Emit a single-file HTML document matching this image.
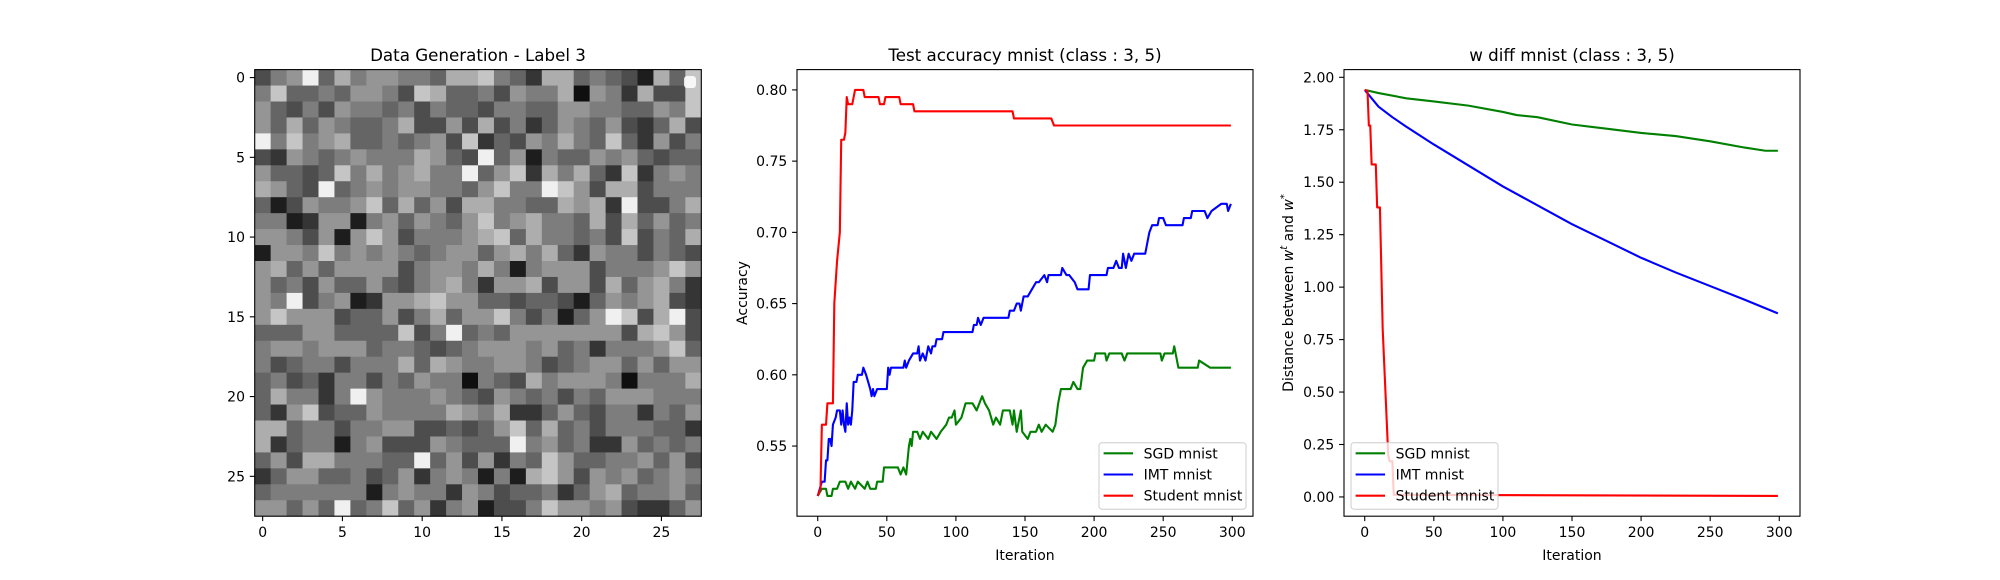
<!DOCTYPE html>
<html><head><meta charset="utf-8"><style>
html,body{margin:0;padding:0;background:#fff;}
svg{display:block;font-family:"DejaVu Sans","Liberation Sans",sans-serif;}
</style></head><body>
<svg id="fig" width="2000" height="580" viewBox="0 0 2000 580" xmlns="http://www.w3.org/2000/svg"></svg>
<script>
// ---------- DATA ----------
const heatRows = [
"3569475665547785427745431748",
"5844546653874453655706527338",
"6435365545354435544665544658",
"6474654457336373524654632473",
"9585674454563824365754842635",
"3265456555764394615446564344",
"6443485756755946827574282565",
"7643945656655468559863773555",
"4136556847463775544767293357",
"5512661564654685675547374645",
"6653616863555678475545383547",
"1665856565456646757426553543",
"6746466663566575156663555686",
"6453644643567526673663746752",
"6593561266786644344314656732",
"6866634463574668535146983793",
"4446644448359454666666637863",
"5665666455434566656452555684",
"5345535557476556653456646466",
"4534255354655054375666505557",
"4755259655565436545354666555",
"4268344655557657224643552546",
"7745535566334346847453555442",
"7245515633365444956452264545",
"4637755544946362548644556463",
"2466445346256515178636564565",
"4555555156552653445246745564",
"6646494584625613358665632246"
];
const xTicksImg = [0,5,10,15,20,25];
const yTicksImg = [0,5,10,15,20,25];

const accTicks = [0.55,0.60,0.65,0.70,0.75,0.80];
const distTicks = [0.00,0.25,0.50,0.75,1.00,1.25,1.50,1.75,2.00];
const iterTicks = [0,50,100,150,200,250,300];

const accRedX = [0,2,3,6,7,11,12,14,16,17,19,20,21,22,25,27,33,34,44,45,48,49,59,60,69,70,141,142,169,171,299];
const accRedY = [0.515,0.52,0.565,0.565,0.58,0.58,0.65,0.68,0.70,0.765,0.765,0.77,0.795,0.79,0.79,0.80,0.80,0.795,0.795,0.79,0.79,0.795,0.795,0.79,0.79,0.785,0.785,0.78,0.78,0.775,0.775];

const accBlueX = [0,3,5,6,7,8,9,10,11,13,14,16,17,18,19,20,21,22,23,24,25,26,28,29,32,33,35,38,39,40,41,43,50,51,52,53,62,63,64,66,69,72,73,74,76,78,80,82,83,85,86,90,91,112,113,115,116,118,120,138,139,142,144,146,147,149,152,155,158,160,164,166,167,176,177,180,182,186,188,196,197,209,210,214,216,218,220,221,223,225,227,229,237,238,240,242,246,247,250,252,264,265,270,271,280,282,285,292,296,297,299];
const accBlueY = [0.515,0.525,0.525,0.54,0.54,0.555,0.555,0.55,0.565,0.57,0.575,0.575,0.565,0.575,0.565,0.56,0.58,0.565,0.57,0.565,0.575,0.595,0.595,0.60,0.60,0.605,0.60,0.59,0.585,0.59,0.585,0.59,0.59,0.605,0.60,0.605,0.605,0.61,0.605,0.61,0.615,0.615,0.62,0.61,0.615,0.61,0.62,0.615,0.62,0.62,0.625,0.625,0.63,0.63,0.635,0.635,0.64,0.635,0.64,0.64,0.645,0.645,0.65,0.65,0.645,0.655,0.655,0.66,0.665,0.665,0.67,0.665,0.67,0.67,0.675,0.67,0.67,0.665,0.66,0.66,0.67,0.67,0.675,0.675,0.68,0.675,0.675,0.685,0.675,0.685,0.68,0.685,0.685,0.69,0.70,0.705,0.705,0.71,0.71,0.705,0.705,0.71,0.71,0.715,0.715,0.71,0.715,0.72,0.72,0.715,0.72];

const accGreenX = [0,3,6,7,10,11,14,16,20,22,24,27,29,34,36,38,42,43,47,48,58,60,62,64,65,66,67,68,69,72,74,76,80,82,86,89,93,95,97,99,100,104,107,112,115,117,119,121,124,127,129,132,134,139,141,142,144,147,148,152,154,158,160,162,165,170,172,174,176,183,185,188,190,192,195,200,201,208,209,211,220,222,224,248,249,251,257,258,261,275,276,284,299];
const accGreenY = [0.515,0.52,0.52,0.515,0.515,0.52,0.52,0.525,0.525,0.52,0.525,0.52,0.525,0.52,0.525,0.52,0.52,0.525,0.525,0.535,0.535,0.53,0.535,0.53,0.54,0.55,0.555,0.55,0.56,0.56,0.555,0.56,0.555,0.56,0.555,0.56,0.565,0.57,0.57,0.575,0.565,0.57,0.58,0.58,0.575,0.58,0.585,0.58,0.575,0.565,0.57,0.565,0.575,0.575,0.565,0.575,0.56,0.575,0.56,0.555,0.56,0.56,0.565,0.56,0.565,0.56,0.565,0.58,0.59,0.59,0.595,0.59,0.59,0.605,0.61,0.61,0.615,0.615,0.61,0.615,0.615,0.61,0.615,0.615,0.61,0.615,0.615,0.62,0.605,0.605,0.61,0.605,0.605];

const distGreenX = [0,10,30,50,75,100,110,125,150,175,200,225,250,275,290,299];
const distGreenY = [1.94,1.925,1.90,1.885,1.865,1.835,1.82,1.81,1.775,1.755,1.735,1.72,1.695,1.665,1.65,1.65];
const distBlueX = [0,5,10,20,30,50,75,100,125,150,175,200,225,250,275,299];
const distBlueY = [1.94,1.90,1.86,1.81,1.765,1.68,1.58,1.48,1.39,1.30,1.22,1.14,1.07,1.005,0.94,0.875];
const distRedX = [0,2,3,4,5,8,9,11,13,17,18,20,21,299];
const distRedY = [1.94,1.935,1.77,1.77,1.585,1.585,1.38,1.38,0.80,0.20,0.17,0.17,0.01,0.005];

// ---------- HELPERS ----------
const NS = "http://www.w3.org/2000/svg";
const svg = document.getElementById('fig');
function mk(tag, attrs, parent){
  const e = document.createElementNS(NS, tag);
  for (const k in attrs) e.setAttribute(k, attrs[k]);
  (parent||svg).appendChild(e);
  return e;
}
const TOP = 69.6, BOT = 516.2;
function linScale(d0,d1,r0,r1){ return v => r0 + (v-d0)/(d1-d0)*(r1-r0); }

// ---------- PANEL 1: heatmap ----------
(function(){
  const L = 254.7, R = 701.3;
  const cell = (R-L)/28;
  const sx = linScale(-0.5,27.5,L,R), sy = linScale(-0.5,27.5,TOP,BOT);
  const g = mk('g',{});
  
  
  heatRows.forEach((row,r)=>{
    for(let c=0;c<row.length;c++){
      const d = +row[c];
      let v = Math.round(125 + (d-5)*24);
      if (d===9) v = 240; if (d===0) v = 15;
      v = Math.max(0,Math.min(255,v));
      const rc = mk('rect',{x:sx(c-0.5),y:sy(r-0.5),width:cell+0.4,height:(BOT-TOP)/28+0.4,fill:`rgb(${v},${v},${v})`},g);
      
      
    }
  });
  const fr = mk('rect',{x:L,y:TOP,width:R-L,height:BOT-TOP,fill:'none',stroke:'#000','stroke-width':1.1});
  
  
  const lg = mk('rect',{x:684,y:76,width:12,height:12,rx:3,fill:'#fff',opacity:0.85});
  
  
  xTicksImg.forEach(t=>{
    const x = sx(t);
    mk('line',{x1:x,x2:x,y1:BOT,y2:BOT+4.9,stroke:'#000','stroke-width':1.1});
    const tx = mk('text',{x:x,y:537,'font-size':14,'text-anchor':'middle'}); tx.textContent=t;
    
    
  });
  yTicksImg.forEach(t=>{
    const y = sy(t);
    mk('line',{x1:L-4.9,x2:L,y1:y,y2:y,stroke:'#000','stroke-width':1.1});
    const tx = mk('text',{x:L-9.7,y:y+5,'font-size':14,'text-anchor':'end'}); tx.textContent=t;
    
    
  });
  const ti = mk('text',{x:(L+R)/2,y:61,'font-size':16.7,'text-anchor':'middle'}); ti.textContent='Data Generation - Label 3';
  
  
})();

// ---------- line panels ----------
function linePanel(L, R, ymin, ymax, yTicks, fmt, series, title, ylabelFn, legendX, nameP){
  const sx = linScale(-15,315,L,R), sy = linScale(ymin,ymax,BOT,TOP);
  const clipId = 'clip'+nameP;
  const cp = mk('clipPath',{id:clipId});
  mk('rect',{x:L,y:TOP,width:R-L,height:BOT-TOP},cp);
  series.forEach(s=>{
    let d='';
    s.x.forEach((xv,i)=>{ d += (i?'L':'M')+sx(xv).toFixed(2)+','+sy(s.y[i]).toFixed(2); });
    const p = mk('path',{d:d,fill:'none',stroke:s.color,'stroke-width':2.1,'stroke-linejoin':'round','clip-path':`url(#${clipId})`});
    
    
  });
  const fr = mk('rect',{x:L,y:TOP,width:R-L,height:BOT-TOP,fill:'none',stroke:'#000','stroke-width':1.1});
  
  
  iterTicks.forEach(t=>{
    const x = sx(t);
    mk('line',{x1:x,x2:x,y1:BOT,y2:BOT+4.9,stroke:'#000','stroke-width':1.1});
    const tx = mk('text',{x:x,y:537,'font-size':14,'text-anchor':'middle'}); tx.textContent=t;
    
    
  });
  yTicks.forEach(t=>{
    const y = sy(t);
    mk('line',{x1:L-4.9,x2:L,y1:y,y2:y,stroke:'#000','stroke-width':1.1});
    const tx = mk('text',{x:L-9.7,y:y+5,'font-size':14,'text-anchor':'end'}); tx.textContent=t.toFixed(2);
    
    
  });
  const xl = mk('text',{x:(L+R)/2,y:560,'font-size':14,'text-anchor':'middle'}); xl.textContent='Iteration';
  
  
  ylabelFn();
  const ti = mk('text',{x:(L+R)/2,y:61,'font-size':16.7,'text-anchor':'middle'}); ti.textContent=title;
  
  
  const lg = mk('g',{});
  
  
  mk('rect',{x:legendX,y:442.7,width:147,height:66.5,rx:3,fill:'#fff','fill-opacity':0.8,stroke:'#ccc','stroke-width':1},lg);
  const rows = [453.3,474.5,495.7];
  series.forEach((s,i)=>{
    const e = mk('g',{},lg);
    
    
    mk('line',{x1:legendX+4.6,x2:legendX+34,y1:rows[i],y2:rows[i],stroke:s.color,'stroke-width':2.1},e);
    const t = mk('text',{x:legendX+44.6,y:rows[i]+5,'font-size':14},e); t.textContent=s.label;
  });
}

linePanel(797,1253,0.50075,0.81425,accTicks,null,[
  {key:'sgd',label:'SGD mnist',color:'#008000',x:accGreenX,y:accGreenY},
  {key:'imt',label:'IMT mnist',color:'#0000ff',x:accBlueX,y:accBlueY},
  {key:'student',label:'Student mnist',color:'#ff0000',x:accRedX,y:accRedY}
],'Test accuracy mnist (class : 3, 5)',function(){
  const t = mk('text',{x:0,y:0,'font-size':14,'text-anchor':'middle',transform:'translate(747,293) rotate(-90)'}); t.textContent='Accuracy';
  
  
},1099,'accuracy');

linePanel(1344,1800,-0.09175,2.03675,distTicks,null,[
  {key:'sgd',label:'SGD mnist',color:'#008000',x:distGreenX,y:distGreenY},
  {key:'imt',label:'IMT mnist',color:'#0000ff',x:distBlueX,y:distBlueY},
  {key:'student',label:'Student mnist',color:'#ff0000',x:distRedX,y:distRedY}
],'w diff mnist (class : 3, 5)',function(){
  const t = mk('text',{x:0,y:0,'font-size':14,'text-anchor':'middle',transform:'translate(1293,293) rotate(-90)'});
  
  
  t.innerHTML = 'Distance between <tspan font-style="italic">w</tspan><tspan font-style="italic" font-size="10" dy="-6">t</tspan><tspan dy="6"> and </tspan><tspan font-style="italic">w</tspan><tspan font-size="10" dy="-6">*</tspan>';
},1351,'distance');
</script>
</body></html>
